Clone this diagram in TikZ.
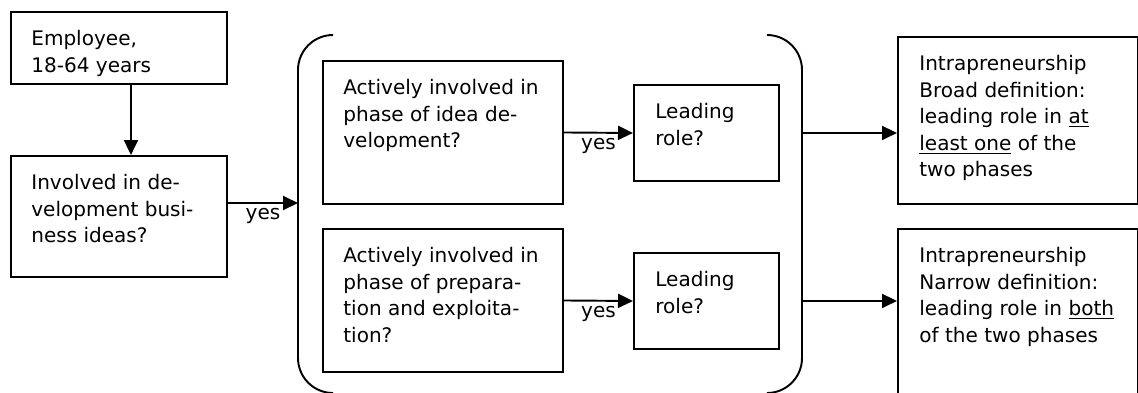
\documentclass[tikz,border=0pt]{standalone}
\usepackage{fontspec}
\setmainfont{DejaVu Sans}
\usetikzlibrary{arrows.meta,positioning}

\begin{document}
\begin{tikzpicture}[
  box/.style={draw, line width=1.1pt, anchor=north west, inner sep=0pt},
  txt/.style={anchor=north west, inner sep=0pt, align=left, font=\fontsize{11.4}{15.1}\selectfont},
  arr/.style={line width=1.1pt, -{Triangle[length=0.3cm,width=0.28cm]}},
  yes/.style={midway, below, inner sep=2.5pt, font=\fontsize{11.4}{13}\selectfont}]
\useasboundingbox (0,0) rectangle (22.76,-7.84);

% left column
\draw (0.2,-0.22) node[box, minimum width=4.32cm, minimum height=1.44cm] (emp) {};
\node[txt, below right=0.38cm and 0.42cm of emp.north west] (empT) {Employee,\\18-64 years};
\draw (0.2,-3.1) node[box, minimum width=4.32cm, minimum height=2.42cm] (inv) {};
\node[txt, below right=0.38cm and 0.42cm of inv.north west] (invT) {Involved in de-\\velopment busi-\\ness ideas?};

% bracket round the two phases
\draw[line width=1.1pt, rounded corners=0.7cm] (6.66,-0.7) -- (5.96,-0.7) -- (5.96,-7.86) -- (6.66,-7.86);
\draw[line width=1.1pt, rounded corners=0.7cm] (15.34,-0.7) -- (16.04,-0.7) -- (16.04,-7.86) -- (15.34,-7.86);
\coordinate (brIn) at (5.96,-4.06);
\coordinate (brOut) at (16.04,-4.06);

% phases
\draw (6.44,-1.2) node[box, minimum width=4.8cm, minimum height=2.86cm] (idea) {};
\node[txt, below right=0.38cm and 0.42cm of idea.north west] (ideaT) {Actively involved in\\phase of idea de-\\velopment?};
\draw (6.44,-4.56) node[box, minimum width=4.8cm, minimum height=2.86cm] (prep) {};
\node[txt, below right=0.38cm and 0.42cm of prep.north west] (prepT) {Actively involved in\\phase of prepara-\\tion and exploita-\\tion?};

\draw (12.66,-1.68) node[box, minimum width=2.9cm, minimum height=1.92cm] (lead1) {};
\node[txt, below right=0.38cm and 0.44cm of lead1.north west] (lead1T) {Leading\\role?};
\draw (12.66,-5.04) node[box, minimum width=2.9cm, minimum height=1.92cm] (lead2) {};
\node[txt, below right=0.38cm and 0.44cm of lead2.north west] (lead2T) {Leading\\role?};

% definitions
\draw (17.94,-0.72) node[box, minimum width=4.8cm, minimum height=3.34cm] (broad) {};
\node[txt, below right=0.38cm and 0.44cm of broad.north west] (broadT) {Intrapreneurship\\Broad definition:\\leading role in \underline{at}\\\underline{least one} of the\\two phases};
\draw (17.94,-4.56) node[box, minimum width=4.8cm, minimum height=3.4cm] (narrow) {};
\node[txt, below right=0.38cm and 0.44cm of narrow.north west] (narrowT) {Intrapreneurship\\Narrow definition:\\leading role in \underline{both}\\of the two phases};

% arrows
\draw[arr] ([xshift=0.24cm]emp.south) -- ([xshift=0.24cm]inv.north);
\draw[arr] (inv.east |- brIn) -- (brIn) node[yes] {yes};
\draw[arr] (idea.east) -- (lead1.west) node[yes] {yes};
\draw[arr] (prep.east) -- (lead2.west) node[yes] {yes};
\draw[arr] (lead1 -| brOut) -- (lead1 -| broad.west);
\draw[arr] (lead2 -| brOut) -- (lead2 -| narrow.west);
\end{tikzpicture}
\end{document}
